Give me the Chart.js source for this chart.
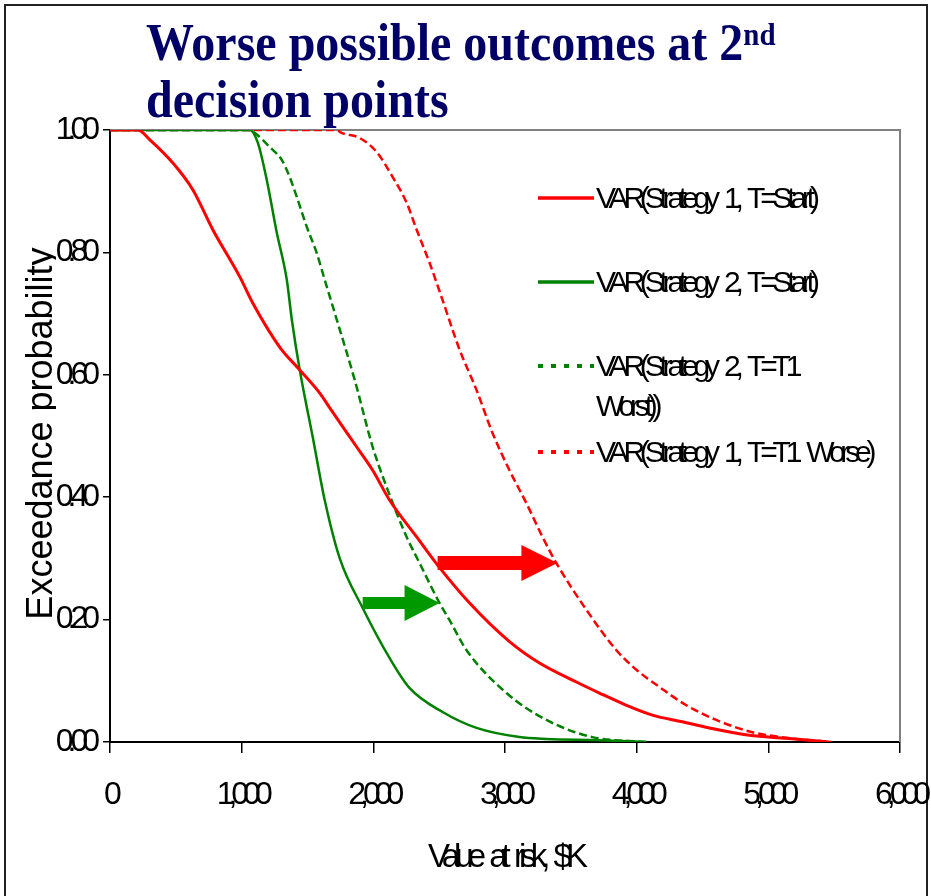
<!DOCTYPE html>
<html>
<head>
<meta charset="utf-8">
<script src="https://cdn.jsdelivr.net/npm/chart.js@4.4.1/dist/chart.umd.min.js"></script>
<style>
  body { margin: 0; background: #fff; }
  #wrap { position: relative; width: 931px; height: 896px; overflow: hidden; }
  #frame { position: absolute; left: 4px; top: 4px; width: 920px; height: 900px; border: 2px solid #222; }
  #myChart { position: absolute; left: 0; top: 0; }
  #titulo { position: absolute; left: 146px; top: 15px; font: bold 48px "Liberation Serif", "Times New Roman", serif;
            line-height: 52px; color: #000066; white-space: nowrap; transform: scaleY(1.08); transform-origin: 0 0; }
  #titulo sup { font-size: 29px; line-height: 29px; vertical-align: top; position: relative; top: 4px; }
  #tituloY { position: absolute; left: 0; top: 0; width: 56px; height: 896px; overflow: hidden; }
  #tituloY div { position: absolute; left: -147px; top: 413px; width: 373px; height: 41px; line-height: 41px;
                 text-align: center; white-space: nowrap; transform: rotate(-90deg);
                 font: 36px "Liberation Sans", Arial, sans-serif; color: #000; }
  #leyenda { position: absolute; left: 538px; top: 0; }
  .item { position: absolute; left: 0; white-space: nowrap; }
  .item svg { position: absolute; left: 0; }
  .item span { position: absolute; left: 58px; font: 30px "Liberation Sans", Arial, sans-serif;
               letter-spacing: -5.2px; word-spacing: 6px; line-height: 40px; color: #000; }
</style>
</head>
<body>
<div id="wrap">
  <div id="frame"></div>
  <canvas id="myChart" width="931" height="896"></canvas>
  <div id="titulo">Worse possible outcomes at 2<sup>nd</sup><br>decision points</div>
  <div id="tituloY"><div>Exceedance probability</div></div>
  <div id="leyenda"></div>
</div>
<script>
// valores
const s1StartX = [0, 150, 212, 303, 478, 630, 781, 986, 1085, 1290, 1441, 1593, 1669, 1874, 1995, 2124, 2329, 2488, 2731, 3034, 3262, 3542, 3717, 3922, 4119, 4347, 4551, 4855, 5135, 5462];
const s1StartP = [1, 1, 1, 0.984, 0.946, 0.902, 0.837, 0.760, 0.717, 0.645, 0.608, 0.570, 0.546, 0.482, 0.444, 0.395, 0.335, 0.289, 0.227, 0.164, 0.129, 0.098, 0.08, 0.06, 0.044, 0.033, 0.023, 0.011, 0.006, 0];

const s2StartX = [0, 1000, 1062, 1123, 1191, 1267, 1343, 1381, 1441, 1540, 1631, 1745, 1919, 2124, 2276, 2526, 2784, 3110, 3315, 3700, 4073];
const s2StartP = [1, 1, 1, 0.979, 0.918, 0.832, 0.755, 0.69, 0.608, 0.498, 0.395, 0.30, 0.219, 0.137, 0.088, 0.049, 0.023, 0.008, 0.005, 0.003, 0];

const s2WorstX = [0, 1050, 1100, 1214, 1305, 1365, 1418, 1494, 1570, 1631, 1707, 1858, 1995, 2109, 2253, 2352, 2503, 2579, 2708, 3011, 3315, 3664, 4073];
const s2WorstP = [1, 1, 0.995, 0.972, 0.951, 0.923, 0.891, 0.842, 0.799, 0.755, 0.701, 0.592, 0.482, 0.412, 0.335, 0.292, 0.227, 0.199, 0.150, 0.080, 0.036, 0.008, 0];

const s1WorseX = [0, 1730, 1745, 1896, 2025, 2147, 2253, 2329, 2427, 2526, 2655, 2784, 2905, 3034, 3163, 3285, 3391, 3618, 3846, 3998, 4172, 4377, 4604, 4878, 5135, 5480];
const s1WorseP = [1, 1, 0.997, 0.987, 0.964, 0.923, 0.881, 0.837, 0.783, 0.722, 0.641, 0.575, 0.505, 0.444, 0.39, 0.335, 0.292, 0.216, 0.150, 0.118, 0.09, 0.06, 0.036, 0.016, 0.007, 0];

const etiquetas = ['VAR(Strategy 1, T=Start)', 'VAR(Strategy 2, T=Start)', 'VAR(Strategy 2, T=T1 Worst))', 'VAR(Strategy 1, T=T1 Worse)'];

// flechas (en unidades de datos)
const flechaRojaX = [2488, 3398];
const flechaRojaY = 0.2925;
const flechaVerdeX = [1919, 2503];
const flechaVerdeY = 0.227;

const puntos = (xs, ps) => xs.map((x, i) => ({ x: x, y: ps[i] }));

const fuenteEjes = '"Liberation Sans", Arial, sans-serif';

const espaciado = {
  id: 'espaciado',
  beforeDraw(chart) {
    chart.ctx.letterSpacing = '-6px';
    chart.ctx.wordSpacing = '6px';
  }
};

const bordes = {
  id: 'bordes',
  beforeDatasetsDraw(chart) {
    const { ctx, chartArea: a } = chart;
    ctx.save();
    ctx.strokeStyle = '#808080';
    ctx.lineWidth = 2;
    ctx.beginPath();
    ctx.moveTo(a.left, a.top);
    ctx.lineTo(a.right, a.top);
    ctx.lineTo(a.right, a.bottom);
    ctx.stroke();
    ctx.restore();
  }
};

function flecha(ctx, x0, x1, y, medio, cabeza, largo, color) {
  ctx.fillStyle = color;
  ctx.beginPath();
  ctx.moveTo(x0, y - medio);
  ctx.lineTo(x1 - largo, y - medio);
  ctx.lineTo(x1 - largo, y - cabeza);
  ctx.lineTo(x1, y);
  ctx.lineTo(x1 - largo, y + cabeza);
  ctx.lineTo(x1 - largo, y + medio);
  ctx.lineTo(x0, y + medio);
  ctx.closePath();
  ctx.fill();
}

const flechas = {
  id: 'flechas',
  afterDatasetsDraw(chart) {
    const { ctx, scales: { x, y } } = chart;
    ctx.save();
    flecha(ctx, x.getPixelForValue(flechaRojaX[0]), x.getPixelForValue(flechaRojaX[1]), y.getPixelForValue(flechaRojaY), 7, 18, 36, '#ff0000');
    flecha(ctx, x.getPixelForValue(flechaVerdeX[0]), x.getPixelForValue(flechaVerdeX[1]), y.getPixelForValue(flechaVerdeY), 6, 18, 35, '#009900');
    ctx.restore();
  }
};

const grafico = document.getElementById('myChart');
const chart = new Chart(grafico, {
  type: 'scatter',
  data: {
    datasets: [
      { label: etiquetas[0], data: puntos(s1StartX, s1StartP), borderColor: '#ff0000', borderWidth: 3, showLine: true, pointRadius: 0, cubicInterpolationMode: 'monotone' },
      { label: etiquetas[1], data: puntos(s2StartX, s2StartP), borderColor: '#008000', borderWidth: 2.5, showLine: true, pointRadius: 0, cubicInterpolationMode: 'monotone' },
      { label: etiquetas[2], data: puntos(s2WorstX, s2WorstP), borderColor: '#008000', borderWidth: 2.5, borderDash: [8, 4], showLine: true, pointRadius: 0, cubicInterpolationMode: 'monotone' },
      { label: etiquetas[3], data: puntos(s1WorseX, s1WorseP), borderColor: '#ff0000', borderWidth: 2.5, borderDash: [8, 4], showLine: true, pointRadius: 0, cubicInterpolationMode: 'monotone' }
    ]
  },
  options: {
    responsive: false,
    animation: false,
    layout: { padding: { top: 130, right: 31, left: 0, bottom: 0 } },
    plugins: {
      legend: { display: false },
      tooltip: { enabled: false }
    },
    scales: {
      x: {
        type: 'linear', min: 0, max: 6000,
        afterFit: s => { s.height = 154; s.paddingRight = 0; s.paddingLeft = 0; },
        ticks: {
          stepSize: 1000, color: '#000', padding: 23,
          font: { family: fuenteEjes, size: 32 },
          callback: v => v.toLocaleString('en-US'),
          maxRotation: 0
        },
        grid: { drawOnChartArea: false, drawTicks: true, tickLength: 11, color: '#000', lineWidth: 1.5 },
        border: { color: '#000', width: 2 },
        title: { display: true, text: 'Value at risk, $K', color: '#000', font: { family: fuenteEjes, size: 33 }, padding: { top: 0, bottom: 18 } }
      },
      y: {
        min: 0, max: 1,
        afterFit: s => { s.width = 110; s.paddingTop = 0; s.paddingBottom = 0; },
        ticks: {
          stepSize: 0.2, color: '#000', padding: 9,
          font: { family: fuenteEjes, size: 32 },
          callback: v => v.toFixed(2)
        },
        grid: { drawOnChartArea: false, drawTicks: true, tickLength: 7, color: '#000', lineWidth: 1.5 },
        border: { color: '#000', width: 2 }
      }
    }
  },
  plugins: [espaciado, bordes, flechas]
});

// leyenda dentro del area
const posLeyenda = [198, 282, 366, 452];
const leyenda = document.getElementById('leyenda');
chart.data.datasets.forEach((ds, i) => {
  const it = document.createElement('div');
  it.className = 'item';
  it.style.top = posLeyenda[i] + 'px';
  const dash = ds.borderDash ? 'stroke-dasharray="5 8"' : '';
  it.innerHTML = '<svg width="56" height="8" style="top:-4px"><line x1="0" y1="4" x2="56" y2="4" stroke="' + ds.borderColor + '" stroke-width="' + (ds.borderDash ? 4 : 3.5) + '" ' + dash + '/></svg>' +
    '<span style="top:-20px;width:' + (i === 2 ? 215 : 330) + 'px;white-space:normal">' + ds.label + '</span>';
  leyenda.appendChild(it);
});
</script>
</body>
</html>
